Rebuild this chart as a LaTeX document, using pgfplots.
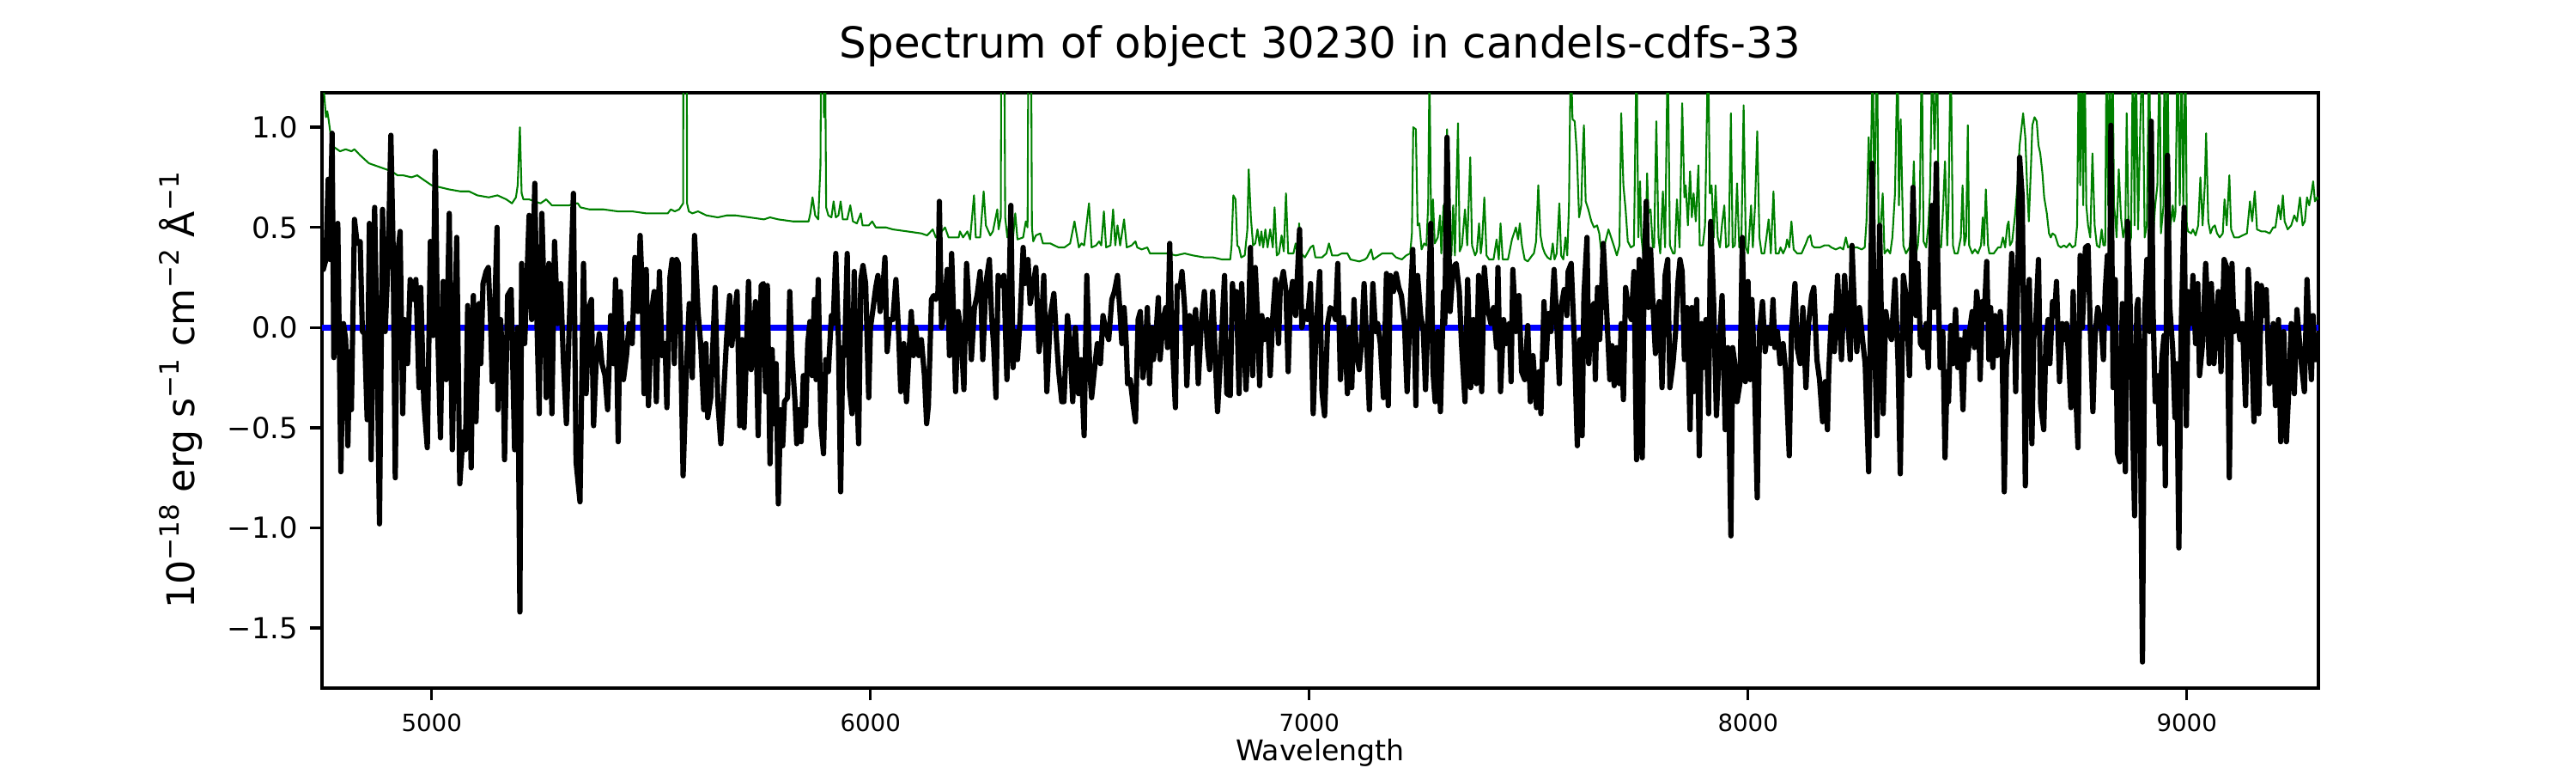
\documentclass[border=0pt]{standalone}
\usepackage{fontspec}
\setmainfont{DejaVu Sans}
\usepackage{pgfplots}
\pgfplotsset{compat=1.18}
\definecolor{mplgreen}{rgb}{0,0.5,0}
\newcommand\sups[1]{\raisebox{6.3pt}{\fontsize{11.2}{12}\selectfont #1}}
\pgfplotstableread{
lam flux
4750 0.44
4753 0.29
4759 0.34
4764 0.74
4768 0.34
4773 0.97
4777 -0.15
4786 0.52
4793 -0.72
4799 0.02
4804 -0.06
4809 -0.59
4813 -0.12
4817 -0.41
4824 0.54
4830 0.42
4837 0.43
4842 -0.02
4847 -0.03
4853 -0.46
4858 0.52
4862 -0.66
4870 0.60
4876 -0.18
4881 -0.98
4888 0.59
4894 -0.02
4901 0.36
4907 0.96
4912 0.41
4917 -0.75
4922 0.35
4928 0.48
4934 -0.43
4938 0.04
4945 -0.18
4951 0.24
4958 0.14
4964 0.24
4971 -0.30
4975 0.20
4982 -0.37
4990 -0.60
4997 0.43
5003 -0.04
5008 0.88
5013 0.04
5020 -0.55
5026 0.23
5033 -0.26
5040 0.57
5047 -0.61
5057 0.45
5064 -0.78
5072 -0.52
5077 -0.61
5082 0.11
5090 -0.70
5095 0.16
5101 -0.47
5108 0.12
5112 -0.18
5117 0.22
5124 0.28
5129 0.30
5134 0.04
5138 -0.27
5144 0.12
5149 0.50
5151 -0.41
5157 0.04
5163 -0.22
5166 -0.66
5173 0.16
5181 0.19
5189 -0.61
5196 0.00
5201 -1.42
5205 0.32
5212 -0.08
5222 0.56
5228 0.04
5235 0.72
5240 0.02
5245 -0.43
5251 0.57
5258 0.02
5261 -0.35
5267 0.32
5274 -0.43
5280 0.43
5287 0.02
5294 0.22
5300 -0.16
5307 -0.48
5313 -0.02
5323 0.67
5329 -0.67
5338 -0.87
5346 0.32
5352 -0.33
5359 0.10
5364 0.14
5369 -0.49
5375 -0.16
5382 -0.03
5388 -0.18
5395 -0.24
5401 -0.41
5408 0.06
5414 -0.18
5419 0.24
5425 -0.57
5430 0.18
5437 -0.26
5444 -0.14
5450 0.02
5457 -0.08
5463 0.35
5470 0.08
5475 0.46
5479 0.24
5484 -0.33
5489 0.29
5494 -0.39
5501 0.08
5507 0.18
5512 -0.37
5519 0.28
5525 -0.14
5532 -0.08
5536 -0.40
5543 0.25
5548 0.34
5553 -0.18
5558 0.34
5562 0.32
5567 -0.02
5573 -0.74
5581 -0.18
5587 0.12
5594 -0.25
5599 0.46
5607 0.08
5613 -0.08
5620 -0.41
5625 -0.08
5629 -0.45
5636 -0.35
5646 0.20
5652 -0.37
5659 -0.58
5665 -0.35
5672 -0.06
5679 0.16
5684 -0.09
5689 0.04
5696 0.18
5702 -0.49
5707 -0.06
5712 -0.50
5717 -0.14
5722 0.23
5728 -0.21
5733 -0.06
5738 0.13
5744 -0.54
5751 0.21
5756 0.22
5761 -0.32
5765 0.21
5771 -0.68
5776 -0.11
5780 -0.48
5785 -0.18
5790 -0.88
5795 -0.41
5800 -0.59
5804 -0.37
5811 -0.35
5816 0.18
5821 -0.14
5828 -0.37
5832 -0.58
5837 -0.41
5842 -0.57
5847 -0.24
5852 -0.49
5857 -0.08
5862 0.03
5867 -0.24
5872 0.14
5876 -0.26
5881 0.24
5887 -0.48
5893 -0.63
5898 -0.16
5904 -0.22
5911 0.06
5915 0.02
5921 0.37
5927 -0.06
5932 -0.82
5937 -0.10
5941 -0.14
5947 0.37
5952 -0.30
5958 -0.43
5963 0.28
5967 -0.16
5973 -0.58
5978 0.24
5983 0.31
5989 0.22
5996 -0.35
6000 0.00
6005 0.08
6012 0.20
6017 0.26
6022 0.08
6028 0.18
6033 0.35
6038 -0.12
6044 0.04
6051 0.04
6058 0.24
6064 -0.02
6069 -0.32
6076 -0.08
6082 -0.37
6087 -0.16
6093 0.08
6098 -0.14
6103 0.00
6110 -0.14
6116 -0.06
6123 -0.24
6128 -0.48
6132 -0.39
6139 0.14
6144 0.16
6149 0.14
6154 0.18
6157 0.63
6162 0.00
6168 0.08
6175 0.29
6180 -0.14
6185 0.37
6189 0.08
6194 -0.32
6200 0.08
6206 -0.02
6213 -0.31
6219 0.32
6224 0.13
6230 -0.16
6237 0.10
6243 0.16
6250 0.28
6256 -0.16
6263 0.22
6271 0.34
6276 0.06
6281 -0.10
6286 -0.35
6291 0.26
6298 0.21
6304 0.26
6311 -0.26
6315 0.06
6320 0.61
6325 -0.20
6330 -0.02
6335 -0.16
6341 0.04
6348 0.40
6352 0.22
6359 0.34
6364 0.12
6371 0.22
6377 0.30
6384 -0.12
6389 -0.02
6395 0.26
6402 -0.32
6410 0.06
6418 0.17
6424 -0.06
6429 -0.22
6436 -0.37
6441 -0.37
6449 0.06
6454 -0.06
6461 -0.37
6467 0.00
6474 -0.33
6480 -0.16
6487 -0.54
6493 0.26
6500 -0.22
6504 -0.35
6511 -0.20
6517 -0.08
6524 -0.18
6530 0.06
6537 -0.02
6543 -0.06
6550 0.14
6556 0.18
6563 0.26
6568 0.10
6573 -0.08
6578 0.10
6583 -0.08
6586 -0.28
6592 -0.26
6599 -0.39
6604 -0.47
6610 0.04
6615 0.08
6621 -0.25
6626 -0.14
6631 0.10
6636 -0.28
6641 0.00
6645 -0.16
6650 -0.06
6656 0.15
6660 -0.16
6667 0.04
6673 0.10
6677 -0.10
6682 0.42
6686 0.02
6695 -0.40
6699 0.21
6706 0.20
6710 0.28
6716 0.10
6721 -0.29
6727 0.06
6732 -0.08
6741 0.09
6747 -0.28
6754 0.02
6761 0.18
6768 -0.10
6773 -0.21
6780 0.18
6786 -0.16
6791 -0.42
6797 -0.18
6807 0.26
6812 -0.33
6820 -0.34
6825 0.22
6830 0.06
6834 0.18
6840 -0.33
6846 0.22
6851 -0.06
6856 -0.31
6861 -0.02
6866 0.40
6871 -0.24
6877 0.30
6882 0.06
6887 -0.29
6892 0.06
6897 -0.06
6905 0.04
6911 -0.24
6917 0.06
6923 0.24
6930 -0.08
6934 0.20
6941 0.28
6947 0.18
6952 -0.22
6957 0.14
6962 0.23
6969 0.06
6973 0.26
6978 0.49
6983 0.00
6990 0.08
6996 0.04
7003 0.22
7009 -0.43
7016 0.02
7024 0.28
7029 -0.32
7035 -0.44
7042 0.02
7048 0.10
7055 0.08
7060 0.04
7065 0.32
7071 -0.26
7078 0.05
7082 -0.06
7087 -0.33
7093 0.00
7097 -0.30
7102 0.14
7107 -0.12
7114 -0.21
7119 -0.08
7125 0.22
7132 -0.14
7137 -0.41
7145 0.22
7151 -0.02
7156 0.02
7162 -0.08
7169 -0.35
7176 0.27
7180 -0.39
7185 0.26
7192 0.18
7198 0.27
7204 0.20
7210 0.16
7217 0.02
7223 -0.32
7230 0.10
7236 0.39
7243 -0.39
7247 0.26
7254 0.06
7260 -0.02
7265 -0.31
7270 0.02
7277 0.52
7282 -0.22
7287 -0.37
7293 -0.02
7299 -0.42
7306 0.18
7309 0.02
7314 0.95
7321 0.08
7328 0.30
7335 0.32
7342 0.18
7347 -0.08
7355 -0.37
7361 0.24
7368 -0.30
7374 0.04
7381 -0.28
7386 0.26
7393 -0.32
7399 0.30
7406 0.10
7414 0.02
7420 0.10
7427 -0.10
7430 0.30
7436 -0.32
7443 0.04
7449 -0.08
7456 0.02
7460 -0.27
7464 0.29
7471 -0.02
7478 0.16
7484 -0.22
7491 -0.26
7498 0.01
7504 -0.37
7510 -0.14
7518 -0.40
7524 -0.22
7528 -0.43
7535 0.13
7540 -0.16
7545 0.07
7551 -0.02
7558 0.29
7563 0.08
7570 -0.28
7574 0.10
7581 0.19
7587 0.06
7590 0.28
7597 0.32
7604 -0.06
7611 -0.59
7617 -0.06
7622 -0.54
7626 0.16
7633 0.45
7637 -0.18
7644 0.10
7649 0.12
7652 -0.26
7657 0.20
7662 -0.06
7665 0.10
7670 0.42
7677 0.12
7685 -0.26
7690 -0.09
7695 -0.29
7701 -0.10
7707 -0.28
7711 0.02
7716 -0.36
7721 0.20
7727 0.10
7734 0.04
7740 0.28
7746 -0.66
7752 0.34
7759 -0.65
7763 0.24
7768 0.63
7773 0.10
7778 0.39
7783 0.13
7789 -0.13
7793 0.08
7798 0.13
7804 -0.30
7811 0.26
7817 0.34
7822 -0.30
7829 -0.18
7835 -0.02
7840 0.22
7845 0.34
7850 0.28
7855 -0.16
7861 0.10
7868 -0.51
7872 0.10
7877 -0.32
7883 0.14
7889 -0.64
7894 0.02
7898 -0.20
7904 0.04
7910 -0.43
7915 0.53
7922 0.10
7928 -0.44
7936 -0.03
7941 0.16
7948 -0.51
7954 -0.10
7961 -1.04
7965 -0.10
7970 -0.18
7975 -0.37
7982 -0.27
7987 0.45
7994 -0.27
8000 0.23
8005 -0.26
8009 0.14
8014 -0.18
8021 -0.85
8026 -0.02
8033 0.13
8039 -0.12
8046 0.00
8052 -0.08
8057 0.14
8061 -0.10
8067 -0.02
8073 -0.18
8080 -0.08
8086 -0.22
8094 -0.64
8099 -0.02
8107 0.22
8112 -0.10
8119 -0.18
8125 0.10
8132 -0.30
8138 0.02
8145 0.16
8150 0.20
8157 -0.16
8163 -0.26
8170 -0.47
8176 -0.27
8181 -0.51
8184 -0.22
8190 0.06
8197 -0.12
8204 0.26
8209 0.02
8213 -0.16
8220 0.26
8226 0.08
8233 -0.16
8237 0.41
8243 0.06
8248 -0.12
8254 0.10
8261 -0.06
8267 -0.18
8275 -0.72
8283 0.82
8288 -0.02
8294 -0.54
8300 0.51
8308 -0.43
8314 0.08
8321 -0.02
8327 -0.06
8335 0.24
8342 -0.18
8347 -0.73
8354 0.26
8360 0.16
8368 -0.24
8376 0.70
8383 0.06
8387 0.32
8393 -0.08
8399 -0.10
8406 0.02
8411 -0.20
8419 0.61
8424 0.10
8429 0.82
8433 0.24
8438 -0.20
8444 -0.02
8449 -0.65
8454 -0.22
8457 -0.37
8462 0.01
8467 -0.18
8473 0.09
8478 -0.20
8484 -0.06
8490 -0.41
8495 -0.02
8501 -0.16
8506 0.00
8511 0.08
8516 -0.10
8521 0.18
8525 0.10
8529 -0.26
8534 0.13
8538 0.04
8544 0.33
8549 -0.16
8553 0.10
8558 -0.20
8563 0.06
8568 -0.14
8575 0.08
8579 -0.08
8584 -0.82
8589 -0.18
8594 -0.06
8601 0.37
8606 0.16
8610 -0.32
8615 0.28
8619 0.85
8625 0.65
8632 -0.79
8636 0.10
8641 0.24
8647 -0.58
8651 -0.06
8656 0.04
8662 0.34
8667 -0.39
8674 -0.51
8679 -0.06
8684 0.04
8688 -0.18
8694 0.13
8699 0.06
8703 0.23
8710 -0.27
8716 0.02
8721 -0.06
8726 0.02
8731 -0.16
8736 -0.40
8741 0.18
8746 -0.28
8752 -0.60
8757 0.36
8762 0.00
8769 0.40
8775 0.41
8780 0.00
8786 -0.42
8791 -0.04
8797 0.10
8804 0.04
8810 -0.16
8814 0.18
8819 0.36
8824 0.02
8827 1.01
8832 -0.30
8837 0.24
8842 -0.63
8847 -0.67
8853 0.12
8860 -0.72
8865 0.53
8870 0.20
8876 -0.43
8881 -0.94
8886 0.10
8889 0.14
8894 -0.39
8899 -1.67
8904 0.06
8909 0.34
8915 -0.02
8919 1.03
8923 0.10
8928 -0.37
8934 -0.24
8938 -0.58
8943 -0.16
8948 -0.04
8951 -0.79
8956 0.86
8961 0.11
8968 -0.11
8973 -0.45
8977 -0.18
8982 -1.10
8987 -0.02
8994 0.60
8999 -0.49
9003 0.18
9010 0.02
9014 0.26
9020 -0.08
9025 0.22
9029 -0.24
9036 -0.08
9043 0.32
9046 0.18
9051 -0.18
9056 0.22
9062 -0.18
9067 0.02
9072 0.18
9078 -0.22
9085 0.34
9091 0.30
9097 -0.75
9103 0.32
9108 -0.02
9114 0.08
9121 -0.06
9127 0.02
9134 -0.39
9140 0.29
9147 -0.02
9153 -0.47
9160 0.22
9164 -0.43
9170 0.21
9176 0.06
9181 0.19
9188 -0.28
9193 -0.18
9197 0.02
9202 -0.39
9209 0.04
9214 -0.57
9221 -0.02
9227 -0.57
9232 -0.33
9238 0.02
9245 -0.33
9251 0.09
9258 -0.10
9262 -0.20
9268 -0.32
9274 0.24
9279 -0.04
9284 -0.26
9288 0.06
9292 -0.16
9297 -0.16
9300 -0.15
}\fluxtable
\pgfplotstableread{
lam sky
4750 1.40
4752 1.25
4759 1.05
4762 1.08
4765 1.04
4768 0.99
4772 0.93
4778 0.90
4791 0.88
4804 0.89
4817 0.88
4824 0.89
4837 0.86
4857 0.82
4870 0.81
4883 0.80
4896 0.79
4909 0.78
4922 0.76
4935 0.76
4954 0.75
4967 0.76
4980 0.74
5000 0.71
5020 0.70
5039 0.69
5065 0.68
5085 0.68
5104 0.66
5130 0.65
5150 0.66
5170 0.64
5183 0.62
5192 0.65
5196 0.71
5201 1.00
5205 0.67
5209 0.64
5222 0.64
5235 0.63
5248 0.62
5261 0.64
5274 0.61
5294 0.61
5313 0.61
5326 0.62
5333 0.62
5339 0.60
5359 0.59
5391 0.59
5424 0.58
5457 0.58
5489 0.57
5522 0.57
5538 0.57
5545 0.59
5554 0.58
5564 0.59
5570 0.61
5573 0.62
5575 3.00
5580 3.00
5582 0.62
5586 0.58
5594 0.57
5607 0.58
5626 0.56
5652 0.55
5673 0.56
5692 0.56
5725 0.55
5757 0.54
5771 0.55
5790 0.54
5823 0.53
5859 0.53
5863 0.57
5868 0.65
5874 0.56
5881 0.54
5886 0.81
5889 2.00
5892 1.50
5894 1.05
5896 1.60
5899 0.60
5904 0.56
5911 0.55
5916 0.63
5921 0.55
5927 0.56
5932 0.63
5937 0.54
5947 0.54
5954 0.61
5960 0.53
5969 0.52
5978 0.57
5982 0.51
5996 0.51
6004 0.53
6012 0.50
6035 0.50
6051 0.49
6084 0.48
6116 0.47
6129 0.46
6142 0.49
6149 0.45
6155 0.46
6170 0.50
6178 0.45
6201 0.45
6204 0.48
6211 0.45
6221 0.48
6227 0.44
6236 0.66
6240 0.45
6250 0.45
6258 0.68
6263 0.51
6273 0.46
6279 0.48
6289 0.59
6292 0.49
6297 0.55
6299 2.00
6304 2.00
6307 0.55
6312 0.45
6318 0.54
6325 0.45
6330 0.57
6335 0.44
6348 0.45
6354 0.53
6358 0.50
6361 2.00
6365 2.00
6368 0.50
6371 0.43
6377 0.46
6387 0.47
6393 0.42
6410 0.42
6419 0.41
6429 0.40
6442 0.40
6455 0.42
6465 0.53
6468 0.49
6475 0.40
6481 0.42
6487 0.41
6498 0.62
6504 0.40
6514 0.41
6521 0.43
6526 0.41
6532 0.58
6537 0.40
6547 0.41
6553 0.59
6558 0.41
6563 0.51
6569 0.41
6578 0.54
6584 0.40
6595 0.41
6604 0.43
6608 0.40
6618 0.39
6631 0.40
6637 0.37
6657 0.37
6677 0.37
6696 0.36
6716 0.37
6735 0.36
6761 0.35
6781 0.35
6801 0.34
6820 0.34
6823 0.41
6827 0.66
6832 0.64
6836 0.41
6840 0.40
6845 0.35
6853 0.36
6859 0.49
6862 0.79
6867 0.55
6872 0.41
6877 0.42
6882 0.49
6887 0.41
6891 0.48
6895 0.40
6900 0.49
6905 0.40
6911 0.49
6917 0.40
6921 0.60
6926 0.36
6931 0.37
6937 0.46
6942 0.38
6947 0.67
6952 0.37
6957 0.37
6964 0.37
6969 0.42
6973 0.37
6977 0.52
6982 0.37
6990 0.35
7003 0.40
7009 0.41
7014 0.35
7029 0.35
7039 0.37
7045 0.42
7052 0.36
7065 0.36
7074 0.37
7087 0.37
7094 0.34
7114 0.33
7127 0.34
7132 0.35
7141 0.39
7146 0.34
7166 0.37
7179 0.37
7189 0.37
7198 0.35
7211 0.34
7221 0.36
7230 0.37
7234 0.47
7237 1.00
7243 0.99
7247 0.51
7251 0.52
7256 0.39
7262 0.42
7267 0.41
7271 0.61
7274 1.30
7278 0.45
7282 0.64
7286 0.42
7293 0.45
7298 0.56
7301 0.37
7306 0.61
7309 0.39
7314 0.99
7319 0.51
7324 0.36
7328 0.61
7332 0.36
7339 1.02
7343 0.38
7348 0.41
7355 0.59
7360 0.41
7367 0.85
7371 0.41
7378 0.36
7382 0.38
7387 0.52
7391 0.37
7394 0.43
7399 0.65
7404 0.36
7410 0.34
7420 0.34
7427 0.44
7432 0.34
7436 0.52
7441 0.34
7453 0.34
7462 0.44
7471 0.50
7476 0.44
7480 0.52
7485 0.41
7491 0.34
7498 0.33
7508 0.36
7512 0.37
7517 0.43
7522 0.71
7527 0.46
7532 0.40
7537 0.37
7543 0.35
7550 0.34
7555 0.42
7559 0.34
7564 0.37
7570 0.62
7574 0.36
7579 0.34
7584 0.45
7588 0.36
7592 0.61
7596 1.40
7600 1.04
7605 1.03
7610 0.87
7615 0.55
7620 0.61
7623 0.85
7626 1.01
7630 0.63
7636 0.59
7643 0.53
7649 0.50
7656 0.51
7661 0.47
7665 0.39
7670 0.37
7675 0.43
7682 0.49
7688 0.45
7694 0.41
7701 0.36
7707 0.41
7711 1.07
7716 0.71
7721 0.59
7726 0.43
7733 0.40
7740 0.41
7746 1.40
7750 0.45
7754 0.73
7757 0.45
7761 0.37
7767 0.45
7770 0.77
7773 0.57
7778 0.59
7783 0.40
7786 0.40
7791 1.03
7796 0.45
7800 0.37
7806 0.68
7811 0.40
7817 1.40
7822 0.41
7829 0.37
7833 0.37
7838 0.64
7844 0.40
7850 1.12
7855 0.65
7858 0.71
7863 0.51
7868 0.78
7872 0.55
7876 0.67
7881 0.53
7887 0.81
7890 0.41
7897 0.41
7902 0.51
7909 1.40
7913 0.67
7917 0.71
7922 0.45
7926 0.71
7931 0.45
7936 0.40
7941 0.52
7946 0.61
7950 0.40
7956 0.41
7961 1.07
7965 0.40
7970 0.41
7975 0.72
7980 0.40
7985 0.45
7990 1.11
7995 0.40
8000 0.37
8007 0.61
8011 0.40
8016 0.61
8021 0.98
8026 0.45
8031 0.37
8037 0.37
8042 0.45
8047 0.54
8052 0.37
8058 0.68
8063 0.37
8070 0.37
8074 0.40
8080 0.37
8086 0.40
8089 0.44
8094 0.40
8099 0.53
8104 0.39
8112 0.37
8122 0.37
8132 0.42
8137 0.45
8142 0.46
8146 0.41
8151 0.40
8158 0.40
8164 0.40
8174 0.41
8184 0.41
8190 0.40
8200 0.39
8210 0.40
8217 0.39
8223 0.45
8228 0.40
8236 0.41
8243 0.40
8249 0.40
8259 0.39
8266 0.40
8270 0.53
8275 0.95
8279 0.65
8284 1.40
8288 0.61
8294 1.40
8298 0.41
8303 0.53
8307 0.67
8311 0.37
8318 0.39
8324 0.37
8329 0.45
8335 0.67
8341 1.40
8344 0.61
8348 1.04
8354 0.41
8360 0.37
8368 0.40
8373 0.51
8378 0.83
8383 0.37
8387 0.41
8391 0.53
8396 1.40
8400 0.43
8406 0.40
8411 0.51
8415 0.69
8420 1.40
8425 0.89
8431 1.40
8435 0.41
8440 0.40
8444 0.57
8449 0.83
8454 0.41
8457 0.61
8462 1.40
8467 0.41
8471 0.37
8478 0.37
8485 0.45
8489 0.71
8493 0.41
8497 0.45
8501 1.01
8504 0.41
8511 0.37
8517 0.39
8524 0.37
8531 0.41
8535 0.55
8538 0.41
8542 0.69
8547 0.41
8550 0.37
8560 0.37
8570 0.40
8576 0.40
8581 0.45
8586 0.40
8591 0.51
8594 0.53
8597 0.41
8602 0.43
8609 0.57
8614 0.71
8619 0.91
8623 0.99
8627 1.07
8632 0.95
8636 0.71
8640 0.53
8645 0.81
8648 1.01
8653 1.05
8658 1.03
8662 0.91
8666 0.87
8671 0.77
8675 0.65
8681 0.57
8686 0.47
8690 0.45
8694 0.47
8700 0.46
8707 0.41
8713 0.40
8720 0.41
8726 0.40
8733 0.42
8739 0.40
8746 0.41
8750 0.51
8754 1.40
8757 0.71
8760 1.40
8764 0.61
8767 1.40
8771 0.61
8775 0.51
8780 0.45
8785 0.87
8790 0.51
8795 0.41
8801 0.40
8806 0.49
8810 0.41
8814 0.41
8817 1.40
8821 0.61
8824 1.40
8827 0.51
8831 1.40
8834 0.61
8837 0.55
8840 0.45
8845 0.79
8850 0.55
8855 0.45
8860 0.51
8863 1.07
8868 0.41
8873 0.45
8877 1.40
8881 0.51
8884 1.40
8889 0.49
8894 1.01
8899 1.40
8904 0.45
8909 0.51
8914 1.40
8919 0.51
8923 0.45
8928 0.61
8933 0.71
8938 1.40
8941 0.47
8947 0.61
8949 1.40
8953 0.51
8956 1.40
8960 0.47
8964 0.53
8968 0.61
8971 0.53
8974 0.57
8979 1.40
8984 0.61
8988 1.40
8992 0.61
8997 1.40
9000 0.51
9003 0.48
9010 0.47
9014 0.49
9020 0.46
9026 0.51
9031 0.75
9036 0.51
9041 0.71
9044 0.97
9049 0.53
9054 0.47
9059 0.50
9064 0.51
9069 0.47
9075 0.45
9082 0.47
9086 0.64
9091 0.51
9097 0.76
9101 0.49
9108 0.45
9118 0.45
9127 0.46
9137 0.47
9144 0.63
9149 0.53
9155 0.68
9160 0.49
9170 0.48
9179 0.48
9189 0.47
9197 0.50
9202 0.50
9209 0.61
9214 0.54
9219 0.66
9223 0.53
9230 0.49
9238 0.51
9245 0.56
9251 0.53
9258 0.65
9264 0.51
9269 0.53
9274 0.65
9279 0.61
9284 0.67
9288 0.73
9292 0.63
9297 0.65
9300 0.64
}\skytable
\begin{document}
\begin{tikzpicture}
\useasboundingbox (0,0) rectangle (1084pt,325.2pt);
\begin{axis}[
  at={(135.5pt,35.77pt)}, anchor=south west,
  scale only axis, width=840.1pt, height=250.4pt,
  xmin=4750, xmax=9300, ymin=-1.80, ymax=1.172,
  axis line style={line width=1.2pt},
  tick align=outside, major tick length=5.1pt,
  tick style={line width=1.2pt, black},
  tick pos=left,
  xtick={5000,6000,7000,8000,9000},
  xticklabels={5000,6000,7000,8000,9000},
  ytick={-1.5,-1,-0.5,0,0.5,1},
  yticklabels={−1.5,−1.0,−0.5,0.0,0.5,1.0},
  x tick label style={font=\fontsize{10}{12}\selectfont, yshift=-2.2pt},
  y tick label style={font=\fontsize{12.2}{15}\selectfont, xshift=-1.5pt},
  /pgf/number format/assume math mode=true,
  title={Spectrum of object 30230 in candels-cdfs-33},
  title style={at={(0.5,1.0347)}, anchor=base, font=\fontsize{18}{21}\selectfont},
  xlabel={Wavelength},
  xlabel style={at={(0.5,-0.1226)}, anchor=base, font=\fontsize{12}{14}\selectfont},
  ylabel={10\sups{−18} erg s\sups{−1} cm\sups{−2} Å\sups{−1}},
  ylabel style={at={(-0.06404,0.5)}, anchor=base, font=\fontsize{16}{19}\selectfont},
]
\addplot[mplgreen, line width=0.75pt, line join=round] table[x=lam, y=sky] {\skytable};
\addplot[blue, line width=2.4pt] coordinates {(4750,0) (9300,0)};
\addplot[black, line width=2.2pt, line join=round] table[x=lam, y=flux] {\fluxtable};
\end{axis}
\end{tikzpicture}
\end{document}
